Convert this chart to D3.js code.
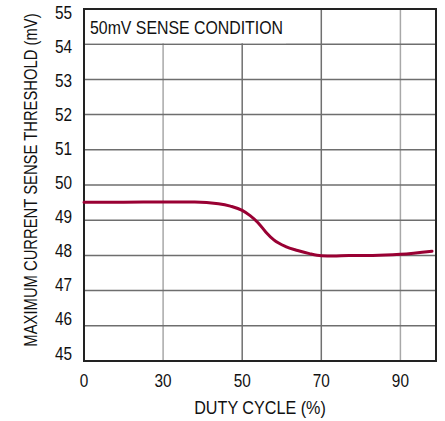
<!DOCTYPE html>
<html>
<head>
<meta charset="utf-8">
<script src="https://cdn.jsdelivr.net/npm/d3@7.9.0/dist/d3.min.js"></script>
<style>
  body { margin: 0; background: #fff; }
  text { font-family: "Liberation Sans", Arial, sans-serif; fill: #111; }
</style>
</head>
<body>
<svg id="chart" width="445" height="421"></svg>
<script>
const dutyCycle = [10, 20, 30, 38, 44, 47, 50, 52, 54, 56, 58, 61, 64, 67, 70, 73, 77, 83, 90, 98];
const threshold = [49.51, 49.51, 49.52, 49.52, 49.47, 49.40, 49.28, 49.13, 48.93, 48.66, 48.44, 48.25, 48.14, 48.05, 47.99, 47.98, 48.0, 48.0, 48.03, 48.12];

// Axis ticks (the first x label reads "0" on the original)
const xTicks = [10, 30, 50, 70, 90];
const xTickLabels = ["0", "30", "50", "70", "90"];
const yTicks = [45, 46, 47, 48, 49, 50, 51, 52, 53, 54, 55];

const svg = d3.select("#chart");
const margin = { top: 9, right: 9, bottom: 60, left: 84 };
const width = 445 - margin.left - margin.right;
const height = 421 - margin.top - margin.bottom;

const x = d3.scaleLinear().domain([10, 99]).range([0, width]);
const y = d3.scaleLinear().domain([45, 55]).range([height, 0]);
// tick labels on the original sit a little tighter than the grid
const yLabel = d3.scaleLinear().domain([45, 55]).range([height - 8, 3]);

// squeeze text horizontally to mimic the condensed datasheet face
function condense(sel, k) {
    sel.each(function () {
        const len = this.getComputedTextLength();
        d3.select(this).attr("textLength", len * k).attr("lengthAdjust", "spacingAndGlyphs");
    });
}

const g = svg.append("g").attr("transform", `translate(${margin.left},${margin.top})`);

// Grid lines (the 30 and 90 verticals print lighter on the original)
g.selectAll(".vgrid")
    .data(xTicks.slice(1))
    .join("line")
    .attr("x1", d => x(d)).attr("x2", d => x(d))
    .attr("y1", 0).attr("y2", height)
    .attr("stroke", d => (d === 30 || d === 90) ? "#a8a8a8" : "#707070")
    .attr("stroke-width", 1.5);

g.selectAll(".hgrid")
    .data(yTicks.slice(1, -1))
    .join("line")
    .attr("x1", 0).attr("x2", width)
    .attr("y1", d => y(d)).attr("y2", d => y(d))
    .attr("stroke", "#6e6e6e").attr("stroke-width", 1.5);

// White box behind the condition label
g.append("rect")
    .attr("x", 1).attr("y", 1)
    .attr("width", 201).attr("height", y(54) - 2)
    .attr("fill", "#fff");

g.append("text")
    .attr("x", 6).attr("y", 24.5)
    .attr("font-size", 18.5)
    .text("50mV SENSE CONDITION")
    .call(condense, 0.857);

// Frame
g.append("rect")
    .attr("width", width).attr("height", height)
    .attr("fill", "none").attr("stroke", "#222").attr("stroke-width", 2);

// Curve
const line = d3.line()
    .x((d, i) => x(dutyCycle[i]))
    .y(d => y(d))
    .curve(d3.curveMonotoneX);

g.append("path")
    .datum(threshold)
    .attr("d", line)
    .attr("fill", "none")
    .attr("stroke", "#990033")
    .attr("stroke-width", 3)
    .attr("stroke-linecap", "round");

// Tick labels
g.selectAll(".xlab")
    .data(xTicks)
    .join("text")
    .attr("x", d => x(d))
    .attr("y", height + 25.5)
    .attr("text-anchor", "middle")
    .attr("font-size", 18.5)
    .text((d, i) => xTickLabels[i])
    .call(condense, 0.83);

g.selectAll(".ylab")
    .data(yTicks)
    .join("text")
    .attr("x", -12)
    .attr("y", d => yLabel(d) + 6.5)
    .attr("text-anchor", "end")
    .attr("font-size", 18.5)
    .text(d => d)
    .call(condense, 0.83);

// Axis titles
g.append("text")
    .attr("x", 260 - margin.left)
    .attr("y", height + 52.5)
    .attr("text-anchor", "middle")
    .attr("font-size", 18.5)
    .text("DUTY CYCLE (%)")
    .call(condense, 0.873);

// long y title: squeeze with a transform so its box stays inside the page
svg.append("text")
    .attr("transform", `translate(36.5,180) rotate(-90) scale(0.8,1)`)
    .attr("text-anchor", "middle")
    .attr("font-size", 18.5)
    .text("MAXIMUM CURRENT SENSE THRESHOLD (mV)");
</script>
</body>
</html>
